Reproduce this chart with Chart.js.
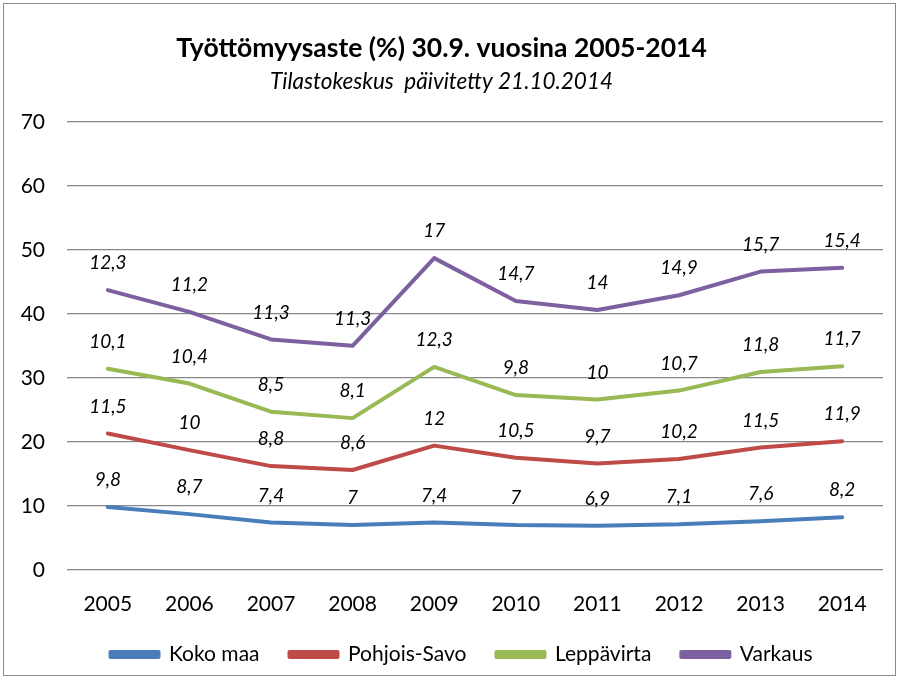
<!DOCTYPE html>
<html>
<head>
<meta charset="utf-8">
<script src="https://cdn.jsdelivr.net/npm/chart.js@4"></script>
<style>
  html, body { margin: 0; padding: 0; background: #fff; }
  #wrap { position: relative; width: 899px; height: 679px; }
  #frame { position: absolute; left: 3px; top: 3px; width: 893px; height: 673px; border: 1px solid #8a8a8a; box-sizing: border-box; pointer-events: none; }
</style>
</head>
<body>
<div id="wrap">
  <canvas id="chart"></canvas>
  <div id="frame"></div>
</div>
<script>
// years on the x axis
const years = ['2005', '2006', '2007', '2008', '2009', '2010', '2011', '2012', '2013', '2014'];

// unemployment rate per area (stacked in the chart)
const kokoMaa = [9.8, 8.7, 7.4, 7, 7.4, 7, 6.9, 7.1, 7.6, 8.2];
const pohjoisSavo = [11.5, 10, 8.8, 8.6, 12, 10.5, 9.7, 10.2, 11.5, 11.9];
const leppavirta = [10.1, 10.4, 8.5, 8.1, 12.3, 9.8, 10, 10.7, 11.8, 11.7];
const varkaus = [12.3, 11.2, 11.3, 11.3, 17, 14.7, 14, 14.9, 15.7, 15.4];

const yTicks = [0, 10, 20, 30, 40, 50, 60, 70];

const FONT = "Lato, 'Open Sans', sans-serif";

// value labels above each point, finnish decimal comma
const valueLabels = {
    id: 'valueLabels',
    afterDatasetsDraw(chart) {
        const ctx = chart.ctx;
        ctx.save();
        ctx.font = "italic 19px " + FONT;
        ctx.fillStyle = '#000';
        ctx.textAlign = 'center';
        ctx.textBaseline = 'middle';
        chart.data.datasets.forEach(function(ds, i) {
            const meta = chart.getDatasetMeta(i);
            meta.data.forEach(function(pt, j) {
                ctx.fillText(String(ds.data[j]).replace('.', ','), pt.x, pt.y - 27);
            });
        });
        ctx.restore();
    }
};

// legend sits a bit right of the canvas centre
const legendShift = {
    id: 'legendShift',
    afterLayout(chart) {
        chart.legend.left += 20;
        chart.legend.right += 20;
    }
};

function series(label, data, color) {
    return {
        label: label,
        data: data,
        borderColor: color,
        backgroundColor: color,
        borderWidth: 4,
        pointRadius: 0,
        tension: 0,
        fill: false,
        borderCapStyle: 'round',
        borderJoinStyle: 'round'
    };
}

new Chart(document.getElementById('chart'), {
    type: 'line',
    data: {
        labels: years,
        datasets: [
            series('Koko maa', kokoMaa, '#4a7ebb'),
            series('Pohjois-Savo', pohjoisSavo, '#be4b48'),
            series('Leppävirta', leppavirta, '#98b954'),
            series('Varkaus', varkaus, '#7d60a0')
        ]
    },
    options: {
        responsive: true,
        maintainAspectRatio: false,
        animation: false,
        layout: { padding: { top: 33, right: 16, bottom: 4, left: 0 } },
        plugins: {
            title: {
                display: true,
                text: 'Työttömyysaste (%) 30.9. vuosina 2005-2014',
                color: '#000',
                font: { family: FONT, size: 26.5, weight: 'bold' },
                padding: { top: 0, bottom: 3 }
            },
            subtitle: {
                display: true,
                text: 'Tilastokeskus  päivitetty 21.10.2014',
                color: '#000',
                font: { family: FONT, size: 22.5, style: 'italic' },
                padding: { top: 0, bottom: 27 }
            },
            legend: {
                position: 'bottom',
                labels: {
                    color: '#000',
                    font: { family: FONT, size: 21 },
                    boxWidth: 48,
                    boxHeight: 5,
                    padding: 30
                }
            },
            tooltip: { enabled: false }
        },
        scales: {
            x: {
                offset: true,
                grid: { display: false },
                border: { display: false },
                afterFit: function(scale) { scale.height = scale.height - 17; },
                ticks: { color: '#000', font: { family: FONT, size: 21 }, padding: 14 }
            },
            y: {
                stacked: true,
                min: 0,
                max: 70,
                afterBuildTicks: function(scale) {
                    scale.ticks = yTicks.map(function(v) { return { value: v }; });
                },
                afterFit: function(scale) { scale.width = 67; },
                grid: { color: '#878787', lineWidth: 1.3, drawTicks: false },
                border: { display: false },
                ticks: { color: '#000', font: { family: FONT, size: 21 }, padding: 22 }
            }
        }
    },
    plugins: [valueLabels, legendShift]
});
</script>
</body>
</html>
